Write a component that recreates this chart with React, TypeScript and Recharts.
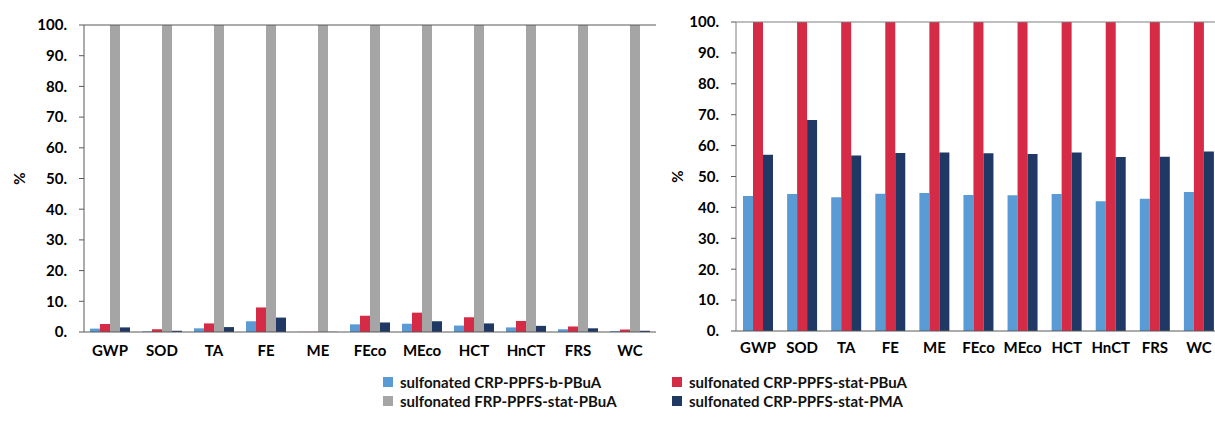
import React from 'react';
import { BarChart, Bar, XAxis, YAxis, ReferenceLine } from 'recharts';

const categories = ['GWP', 'SOD', 'TA', 'FE', 'ME', 'FEco', 'MEco', 'HCT', 'HnCT', 'FRS', 'WC'];
const yTicks = [0, 10, 20, 30, 40, 50, 60, 70, 80, 90, 100];
const boundaryTicks = [0, 1, 2, 3, 4, 5, 6, 7, 8, 9, 10, 11];

const seriesNames = [
  'sulfonated CRP-PPFS-b-PBuA',
  'sulfonated CRP-PPFS-stat-PBuA',
  'sulfonated FRP-PPFS-stat-PBuA',
  'sulfonated CRP-PPFS-stat-PMA',
];
const seriesColors = ['#5B9BD5', '#D62B46', '#A5A5A5', '#203864'];

// Left chart values (%)
const leftBlockPBuA = [1.1, 0.2, 1.2, 3.5, 0.05, 2.5, 2.7, 2.1, 1.5, 0.9, 0.3];
const leftStatPBuA = [2.6, 0.9, 2.8, 8.0, 0.05, 5.3, 6.3, 4.8, 3.6, 1.8, 0.8];
const leftFrpStatPBuA = [100, 100, 100, 100, 100, 100, 100, 100, 100, 100, 100];
const leftStatPMA = [1.5, 0.4, 1.6, 4.7, 0.05, 3.1, 3.5, 2.8, 2.0, 1.2, 0.4];

// Right chart values (%)
const rightBlockPBuA = [43.7, 44.3, 43.3, 44.4, 44.7, 44.0, 43.9, 44.3, 42.0, 42.8, 45.0];
const rightStatPBuA = [100, 100, 100, 100, 100, 100, 100, 100, 100, 100, 100];
const rightStatPMA = [57.0, 68.3, 56.8, 57.6, 57.8, 57.5, 57.3, 57.8, 56.3, 56.4, 58.1];

const leftData = categories.map((c, i) => ({
  cat: c,
  s0: leftBlockPBuA[i],
  s1: leftStatPBuA[i],
  s2: leftFrpStatPBuA[i],
  s3: leftStatPMA[i],
}));
const rightData = categories.map((c, i) => ({
  cat: c,
  s0: rightBlockPBuA[i],
  s1: rightStatPBuA[i],
  s3: rightStatPMA[i],
}));

const FONT = 'Lato, "Open Sans", sans-serif';
const tickStyle = { fontFamily: FONT, fontWeight: 700, fontSize: 15, fill: '#000' };
const fmt = (v: number) => `${v}.`;

function PercentLabel(dx: number) {
  return {
    value: '%',
    angle: -90,
    position: 'center' as const,
    dx,
    style: { fontFamily: FONT, fontWeight: 700, fontSize: 15, fill: '#000' },
  };
}

export default function App() {
  return (
    <div
      style={{
        position: 'absolute',
        left: 0,
        top: 0,
        width: 1215,
        height: 421,
        overflow: 'hidden',
        background: '#fff',
      }}
    >
      <div style={{ position: 'absolute', left: 0, top: 0 }}>
        <BarChart
          width={680}
          height={370}
          data={leftData}
          margin={{ top: 25, right: 24, left: 0, bottom: 0 }}
          barGap={0}
          barSize={10}
        >
          <XAxis
            xAxisId="b"
            type="number"
            domain={[0, 11]}
            ticks={boundaryTicks}
            tick={false}
            height={0}
            axisLine={false}
            tickLine={{ stroke: '#595959' }}
            tickSize={5}
          />
          <XAxis
            dataKey="cat"
            height={38}
            tick={tickStyle}
            tickLine={false}
            tickSize={5}
            tickMargin={8}
            axisLine={{ stroke: '#595959' }}
            interval={0}
          />
          <YAxis
            width={84}
            domain={[0, 100]}
            ticks={yTicks}
            tickFormatter={fmt}
            tick={tickStyle}
            tickSize={5}
            tickMargin={12}
            tickLine={{ stroke: '#595959' }}
            axisLine={{ stroke: '#595959' }}
            label={PercentLabel(-22)}
          />
          <YAxis
            yAxisId="r"
            orientation="right"
            width={0}
            domain={[0, 100]}
            tick={false}
            tickLine={false}
            axisLine={{ stroke: '#595959' }}
          />
          <ReferenceLine y={100} stroke="#595959" />
          <Bar dataKey="s0" fill={seriesColors[0]} isAnimationActive={false} />
          <Bar dataKey="s1" fill={seriesColors[1]} isAnimationActive={false} />
          <Bar dataKey="s2" fill={seriesColors[2]} isAnimationActive={false} />
          <Bar dataKey="s3" fill={seriesColors[3]} isAnimationActive={false} />
        </BarChart>
      </div>

      <div style={{ position: 'absolute', left: 640, top: 0 }}>
        <BarChart
          width={600}
          height={370}
          data={rightData}
          margin={{ top: 22, right: 19, left: 0, bottom: 0 }}
          barGap={0}
          barSize={10}
        >
          <XAxis
            xAxisId="b"
            type="number"
            domain={[0, 11]}
            ticks={boundaryTicks}
            tick={false}
            height={0}
            axisLine={false}
            tickLine={{ stroke: '#595959' }}
            tickSize={5}
          />
          <XAxis
            dataKey="cat"
            height={39}
            tick={tickStyle}
            tickLine={false}
            tickSize={5}
            tickMargin={6}
            axisLine={{ stroke: '#595959' }}
            interval={0}
          />
          <YAxis
            width={96}
            domain={[0, 100]}
            ticks={yTicks}
            tickFormatter={fmt}
            tick={tickStyle}
            tickSize={5}
            tickMargin={12}
            tickLine={{ stroke: '#595959' }}
            axisLine={{ stroke: '#7f7f7f' }}
            label={PercentLabel(-10)}
          />
          <ReferenceLine y={100} stroke="#7f7f7f" />
          <Bar dataKey="s0" fill={seriesColors[0]} isAnimationActive={false} />
          <Bar dataKey="s1" fill={seriesColors[1]} isAnimationActive={false} />
          <Bar dataKey="s3" fill={seriesColors[3]} isAnimationActive={false} />
        </BarChart>
      </div>

      {seriesNames.map((name, i) => (
        <div
          key={name}
          style={{
            position: 'absolute',
            left: i % 2 === 0 ? 383 : 672,
            top: i < 2 ? 373 : 392,
            display: 'flex',
            alignItems: 'center',
            fontFamily: FONT,
            fontWeight: 700,
            fontSize: 15,
            color: '#111',
            whiteSpace: 'nowrap',
            lineHeight: '18px',
          }}
        >
          <span
            style={{
              display: 'inline-block',
              width: 10,
              height: 10,
              background: seriesColors[i],
              marginRight: 7,
            }}
          />
          <span>{name}</span>
        </div>
      ))}
    </div>
  );
}
